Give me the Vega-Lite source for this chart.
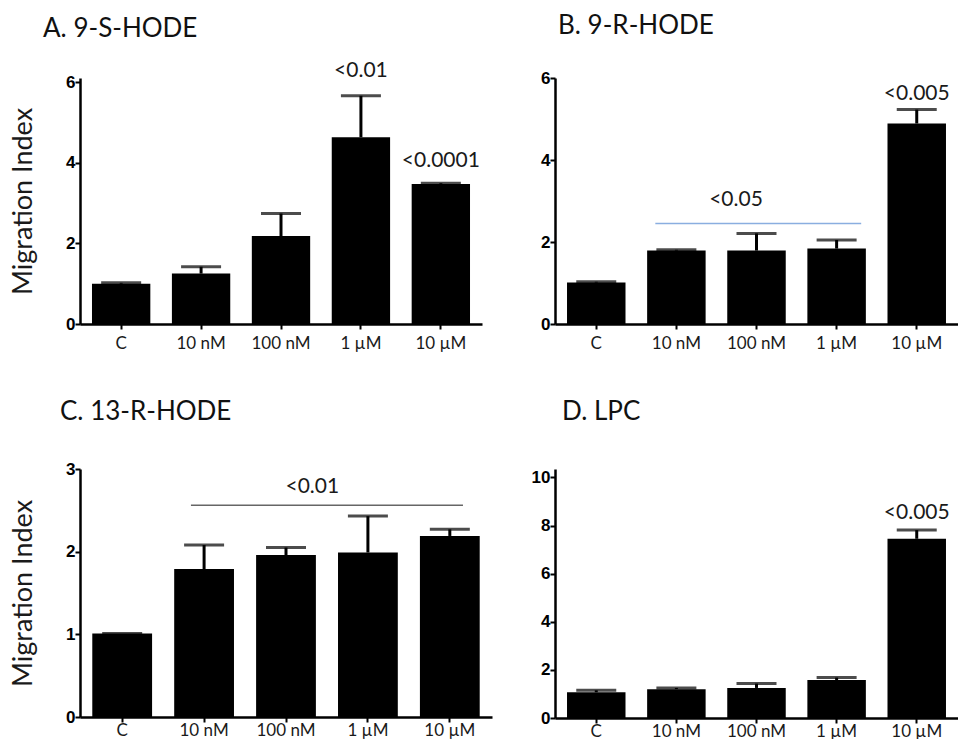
{
  "$schema": "https://vega.github.io/schema/vega-lite/v6.json",
  "padding": {"left": 9, "top": 13, "right": 0, "bottom": 0},
  "background": "white",
  "datasets": {
    "bars": [
      {"panel": "A", "cond": "C", "mean": 1.0, "upper": 1.02},
      {"panel": "A", "cond": "10 nM", "mean": 1.25, "upper": 1.42},
      {"panel": "A", "cond": "100 nM", "mean": 2.18, "upper": 2.74},
      {"panel": "A", "cond": "1 µM", "mean": 4.63, "upper": 5.66},
      {"panel": "A", "cond": "10 µM", "mean": 3.47, "upper": 3.49},
      {"panel": "B", "cond": "C", "mean": 1.01, "upper": 1.03},
      {"panel": "B", "cond": "10 nM", "mean": 1.79, "upper": 1.81},
      {"panel": "B", "cond": "100 nM", "mean": 1.79, "upper": 2.21},
      {"panel": "B", "cond": "1 µM", "mean": 1.84, "upper": 2.05},
      {"panel": "B", "cond": "10 µM", "mean": 4.89, "upper": 5.23},
      {"panel": "C", "cond": "C", "mean": 1.01, "upper": 1.01},
      {"panel": "C", "cond": "10 nM", "mean": 1.79, "upper": 2.08},
      {"panel": "C", "cond": "100 nM", "mean": 1.96, "upper": 2.05},
      {"panel": "C", "cond": "1 µM", "mean": 1.99, "upper": 2.43},
      {"panel": "C", "cond": "10 µM", "mean": 2.19, "upper": 2.27},
      {"panel": "D", "cond": "C", "mean": 1.07, "upper": 1.15},
      {"panel": "D", "cond": "10 nM", "mean": 1.2, "upper": 1.25},
      {"panel": "D", "cond": "100 nM", "mean": 1.25, "upper": 1.43},
      {"panel": "D", "cond": "1 µM", "mean": 1.58, "upper": 1.68},
      {"panel": "D", "cond": "10 µM", "mean": 7.45, "upper": 7.81}
    ],
    "notes": [
      {"panel": "A", "cond": "1 µM", "y": 6.27, "label": "<0.01"},
      {"panel": "A", "cond": "10 µM", "y": 4.04, "label": "<0.0001"},
      {"panel": "B", "cond": "10 µM", "y": 5.61, "label": "<0.005"},
      {"panel": "D", "cond": "10 µM", "y": 8.53, "label": "<0.005"}
    ],
    "lines": [
      {"panel": "B", "from": "10 nM", "to": "1 µM", "y": 2.45, "labelCond": "100 nM", "labelY": 3.02, "label": "<0.05"},
      {"panel": "C", "from": "10 nM", "to": "10 µM", "y": 2.56, "labelCond": "100 nM", "labelY": 2.78, "label": "<0.01"}
    ]
  },
  "concat": [
    {
      "width": 402, "height": 246,
      "title": {"text": "A. 9-S-HODE", "dx": -37, "offset": 18},
      "layer": [
        {"data": {"name": "bars"}, "transform": [{"filter": "datum.panel === 'A'"}],
         "mark": {"type": "bar", "color": "black"},
         "encoding": {
           "x": {"field": "cond", "type": "nominal", "title": null, "scale": {"domain": ["C", "10 nM", "100 nM", "1 µM", "10 µM"], "paddingInner": 0.27, "paddingOuter": 0.15}, "axis": {"labelPadding": 6}},
           "y": {"field": "mean", "type": "quantitative", "title": "Migration Index", "scale": {"domain": [0, 6.1], "nice": false, "zero": true}, "axis": {"values": [0, 2, 4, 6], "format": "d"}}
         }},
        {"data": {"name": "bars"}, "transform": [{"filter": "datum.panel === 'A'"}],
         "mark": {"type": "rule", "color": "black", "strokeWidth": 3},
         "encoding": {
           "x": {"field": "cond", "type": "nominal", "title": null},
           "y": {"field": "mean", "type": "quantitative", "title": "Migration Index"},
           "y2": {"field": "upper"}
         }},
        {"data": {"name": "bars"}, "transform": [{"filter": "datum.panel === 'A'"}],
         "mark": {"type": "tick", "color": "black", "thickness": 3, "size": 40},
         "encoding": {
           "x": {"field": "cond", "type": "nominal", "title": null},
           "y": {"field": "upper", "type": "quantitative", "title": "Migration Index"}
         }},
        {"data": {"name": "notes"}, "transform": [{"filter": "datum.panel === 'A'"}],
         "mark": {"type": "text", "font": "Lato", "fontSize": 21, "color": "#1a1a1a", "baseline": "middle", "align": "center"},
         "encoding": {
           "x": {"field": "cond", "type": "nominal", "title": null},
           "y": {"field": "y", "type": "quantitative", "title": "Migration Index"},
           "text": {"field": "label"}
         }}
      ]
    },
    {
      "width": 403, "height": 246,
      "title": {"text": "B. 9-R-HODE", "dx": 3, "offset": 30},
      "layer": [
        {"data": {"name": "bars"}, "transform": [{"filter": "datum.panel === 'B'"}],
         "mark": {"type": "bar", "color": "black"},
         "encoding": {
           "x": {"field": "cond", "type": "nominal", "title": null, "scale": {"domain": ["C", "10 nM", "100 nM", "1 µM", "10 µM"], "paddingInner": 0.27, "paddingOuter": 0.15}, "axis": {"labelPadding": 6}},
           "y": {"field": "mean", "type": "quantitative", "title": null, "scale": {"domain": [0, 6], "nice": false, "zero": true}, "axis": {"values": [0, 2, 4, 6], "format": "d"}}
         }},
        {"data": {"name": "bars"}, "transform": [{"filter": "datum.panel === 'B'"}],
         "mark": {"type": "rule", "color": "black", "strokeWidth": 3},
         "encoding": {
           "x": {"field": "cond", "type": "nominal", "title": null},
           "y": {"field": "mean", "type": "quantitative", "title": null},
           "y2": {"field": "upper"}
         }},
        {"data": {"name": "bars"}, "transform": [{"filter": "datum.panel === 'B'"}],
         "mark": {"type": "tick", "color": "black", "thickness": 3, "size": 40},
         "encoding": {
           "x": {"field": "cond", "type": "nominal", "title": null},
           "y": {"field": "upper", "type": "quantitative", "title": null}
         }},
        {"data": {"name": "notes"}, "transform": [{"filter": "datum.panel === 'B'"}],
         "mark": {"type": "text", "font": "Lato", "fontSize": 21, "color": "#1a1a1a", "baseline": "middle", "align": "center"},
         "encoding": {
           "x": {"field": "cond", "type": "nominal", "title": null},
           "y": {"field": "y", "type": "quantitative", "title": null},
           "text": {"field": "label"}
         }},
        {"data": {"name": "lines"}, "transform": [{"filter": "datum.panel === 'B'"}],
         "mark": {"type": "rule", "color": "#8aaee0", "strokeWidth": 1.5},
         "encoding": {
           "x": {"field": "from", "type": "nominal", "title": null, "bandPosition": 0.14},
           "x2": {"field": "to", "bandPosition": 0.92},
           "y": {"field": "y", "type": "quantitative", "title": null}
         }},
        {"data": {"name": "lines"}, "transform": [{"filter": "datum.panel === 'B'"}],
         "mark": {"type": "text", "font": "Lato", "fontSize": 21, "color": "#1a1a1a", "baseline": "middle", "align": "center"},
         "encoding": {
           "x": {"field": "labelCond", "type": "nominal", "title": null, "bandPosition": 0.15},
           "y": {"field": "labelY", "type": "quantitative", "title": null},
           "text": {"field": "label"}
         }}
      ]
    },
    {
      "width": 412, "height": 248,
      "title": {"text": "C. 13-R-HODE", "dx": -20, "offset": 35},
      "layer": [
        {"data": {"name": "bars"}, "transform": [{"filter": "datum.panel === 'C'"}],
         "mark": {"type": "bar", "color": "black"},
         "encoding": {
           "x": {"field": "cond", "type": "nominal", "title": null, "scale": {"domain": ["C", "10 nM", "100 nM", "1 µM", "10 µM"], "paddingInner": 0.27, "paddingOuter": 0.15}, "axis": {"labelPadding": 0}},
           "y": {"field": "mean", "type": "quantitative", "title": "Migration Index", "scale": {"domain": [0, 3], "nice": false, "zero": true}, "axis": {"values": [0, 1, 2, 3], "format": "d"}}
         }},
        {"data": {"name": "bars"}, "transform": [{"filter": "datum.panel === 'C'"}],
         "mark": {"type": "rule", "color": "black", "strokeWidth": 3},
         "encoding": {
           "x": {"field": "cond", "type": "nominal", "title": null},
           "y": {"field": "mean", "type": "quantitative", "title": "Migration Index"},
           "y2": {"field": "upper"}
         }},
        {"data": {"name": "bars"}, "transform": [{"filter": "datum.panel === 'C'"}],
         "mark": {"type": "tick", "color": "black", "thickness": 3, "size": 40},
         "encoding": {
           "x": {"field": "cond", "type": "nominal", "title": null},
           "y": {"field": "upper", "type": "quantitative", "title": "Migration Index"}
         }},
        {"data": {"name": "lines"}, "transform": [{"filter": "datum.panel === 'C'"}],
         "mark": {"type": "rule", "color": "#666666", "strokeWidth": 1.5},
         "encoding": {
           "x": {"field": "from", "type": "nominal", "title": null, "bandPosition": 0.28},
           "x2": {"field": "to", "bandPosition": 0.72},
           "y": {"field": "y", "type": "quantitative", "title": "Migration Index"}
         }},
        {"data": {"name": "lines"}, "transform": [{"filter": "datum.panel === 'C'"}],
         "mark": {"type": "text", "font": "Lato", "fontSize": 21, "color": "#1a1a1a", "baseline": "middle", "align": "center"},
         "encoding": {
           "x": {"field": "labelCond", "type": "nominal", "title": null, "bandPosition": 0.94},
           "y": {"field": "labelY", "type": "quantitative", "title": "Migration Index"},
           "text": {"field": "label"}
         }}
      ]
    },
    {
      "width": 403, "height": 249,
      "title": {"text": "D. LPC", "dx": 7, "offset": 43},
      "layer": [
        {"data": {"name": "bars"}, "transform": [{"filter": "datum.panel === 'D'"}],
         "mark": {"type": "bar", "color": "black"},
         "encoding": {
           "x": {"field": "cond", "type": "nominal", "title": null, "scale": {"domain": ["C", "10 nM", "100 nM", "1 µM", "10 µM"], "paddingInner": 0.27, "paddingOuter": 0.15}, "axis": {"labelPadding": 0}},
           "y": {"field": "mean", "type": "quantitative", "title": null, "scale": {"domain": [0, 10.35], "nice": false, "zero": true}, "axis": {"values": [0, 2, 4, 6, 8, 10], "format": "d"}}
         }},
        {"data": {"name": "bars"}, "transform": [{"filter": "datum.panel === 'D'"}],
         "mark": {"type": "rule", "color": "black", "strokeWidth": 3},
         "encoding": {
           "x": {"field": "cond", "type": "nominal", "title": null},
           "y": {"field": "mean", "type": "quantitative", "title": null},
           "y2": {"field": "upper"}
         }},
        {"data": {"name": "bars"}, "transform": [{"filter": "datum.panel === 'D'"}],
         "mark": {"type": "tick", "color": "black", "thickness": 3, "size": 40},
         "encoding": {
           "x": {"field": "cond", "type": "nominal", "title": null},
           "y": {"field": "upper", "type": "quantitative", "title": null}
         }},
        {"data": {"name": "notes"}, "transform": [{"filter": "datum.panel === 'D'"}],
         "mark": {"type": "text", "font": "Lato", "fontSize": 21, "color": "#1a1a1a", "baseline": "middle", "align": "center"},
         "encoding": {
           "x": {"field": "cond", "type": "nominal", "title": null},
           "y": {"field": "y", "type": "quantitative", "title": null},
           "text": {"field": "label"}
         }}
      ]
    }
  ],
  "columns": 2,
  "spacing": {"row": 145, "column": 63},
  "bounds": "flush",
  "config": {
    "view": {"stroke": null},
    "title": {"font": "Lato", "fontSize": 26, "fontWeight": "normal", "anchor": "start", "frame": "group", "color": "#111111"},
    "axis": {"grid": false, "domainColor": "black", "domainWidth": 2.5, "tickColor": "black", "tickWidth": 2, "tickSize": 5},
    "axisX": {"labelFont": "Lato", "labelFontSize": 17, "labelColor": "#1a1a1a", "labelAngle": 0},
    "axisY": {"labelFont": "Liberation Sans", "labelFontWeight": "bold", "labelFontSize": 17, "labelColor": "black", "labelPadding": 0, "titleFont": "Lato", "titleFontSize": 27, "titleFontWeight": "normal", "titleColor": "#1a1a1a", "titlePadding": 28}
  }
}
